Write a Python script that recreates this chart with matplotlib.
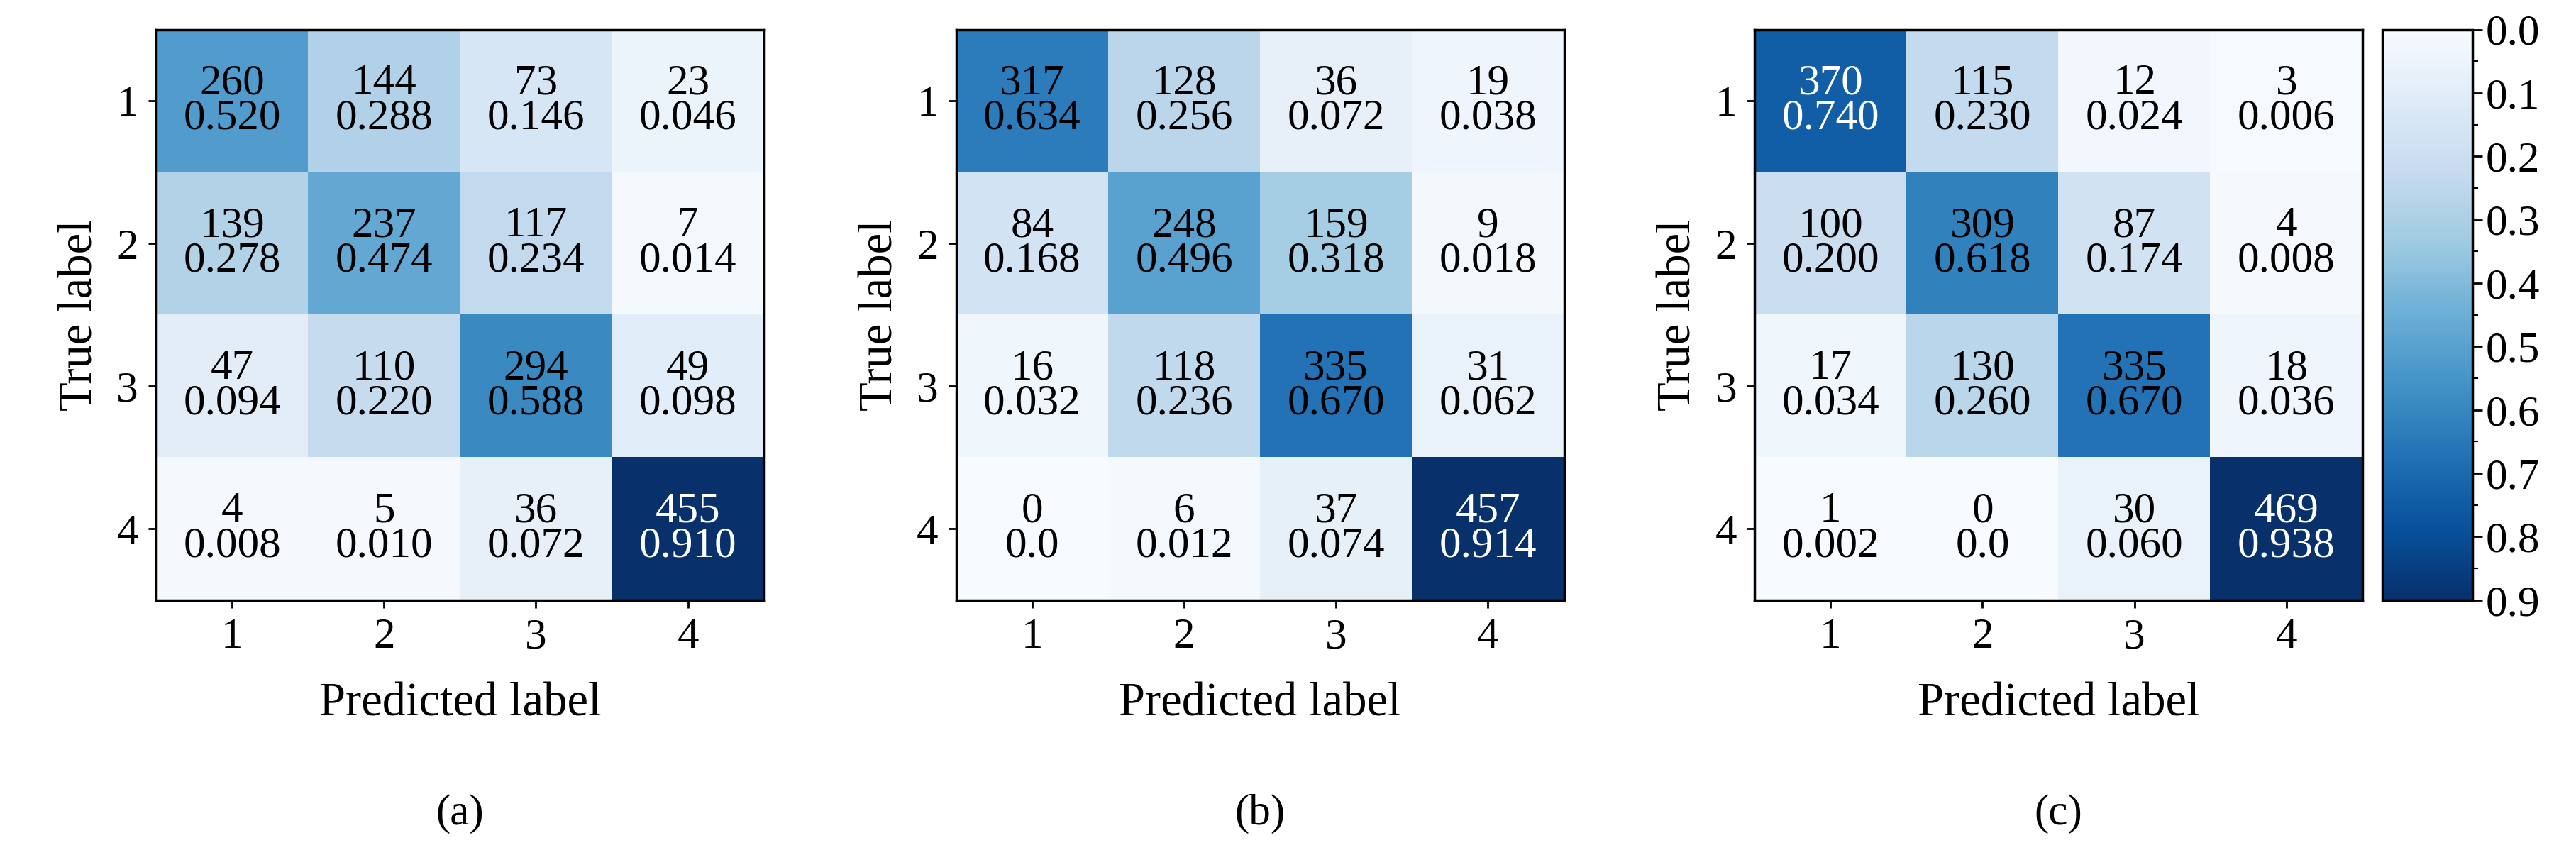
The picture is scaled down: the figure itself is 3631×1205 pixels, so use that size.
import numpy as np
import matplotlib.pyplot as plt
from matplotlib import cm, colors

plt.rcParams['font.family'] = ['Liberation Serif', 'DejaVu Serif']

# 세 모델의 혼동행렬 (행: 실제, 열: 예측)
counts_a = [[260, 144, 73, 23],
            [139, 237, 117, 7],
            [47, 110, 294, 49],
            [4, 5, 36, 455]]
counts_b = [[317, 128, 36, 19],
            [84, 248, 159, 9],
            [16, 118, 335, 31],
            [0, 6, 37, 457]]
counts_c = [[370, 115, 12, 3],
            [100, 309, 87, 4],
            [17, 130, 335, 18],
            [1, 0, 30, 469]]
class_labels = ['1', '2', '3', '4']
panel_tags = ['(a)', '(b)', '(c)']
row_total = 500

W, H = 3631, 1205
fig = plt.figure(figsize=(W / 100, H / 100), dpi=100)
norm = colors.Normalize(vmin=0.0, vmax=0.9)
cmap = plt.get_cmap('Blues')

lefts = [95, 582, 1068]
fs = 44
for left, counts, tag in zip(lefts, [counts_a, counts_b, counts_c], panel_tags):
    ax = fig.add_axes([left / 1568, 1 - 365 / 520, 370 / 1568, 347 / 520])
    cnt = np.array(counts)
    frac = cnt / row_total
    ax.imshow(frac, cmap=cmap, norm=norm, aspect='auto')
    for i in range(4):
        for j in range(4):
            v = frac[i, j]
            txt = f'{cnt[i, j]}\n{v:.3f}' if v > 0 else f'{cnt[i, j]}\n0.0'
            ax.text(j, i, txt, ha='center', va='center', fontsize=fs,
                    linespacing=0.85, color='white' if v > 0.7 else 'black')
    ax.set_xticks(range(4), class_labels, fontsize=fs)
    ax.set_yticks(range(4), class_labels, fontsize=fs)
    ax.tick_params(length=8, width=2, pad=10)
    for s in ax.spines.values():
        s.set_linewidth(2.5)
    ax.set_xlabel('Predicted label', fontsize=fs + 4, labelpad=25)
    ax.set_ylabel('True label', fontsize=fs + 4, labelpad=15)
    ax.text(0.5, -0.375, tag, transform=ax.transAxes, ha='center', va='center', fontsize=fs)

cax = fig.add_axes([1450 / 1568, 1 - 365 / 520, 55 / 1568, 347 / 520])
cb = fig.colorbar(cm.ScalarMappable(norm=norm, cmap=cmap), cax=cax)
cb.set_ticks(np.arange(0, 0.91, 0.1))
cb.set_ticklabels([f'{t:.1f}' for t in np.arange(0, 0.91, 0.1)])
cb.ax.set_yticks(np.arange(0.05, 0.9, 0.1), minor=True)
cb.ax.invert_yaxis()
cb.ax.tick_params(labelsize=fs, length=10, width=2)
cb.ax.tick_params(which='minor', length=6, width=1.5)
cb.outline.set_linewidth(2.5)

fig.savefig('out.png', dpi=100)
